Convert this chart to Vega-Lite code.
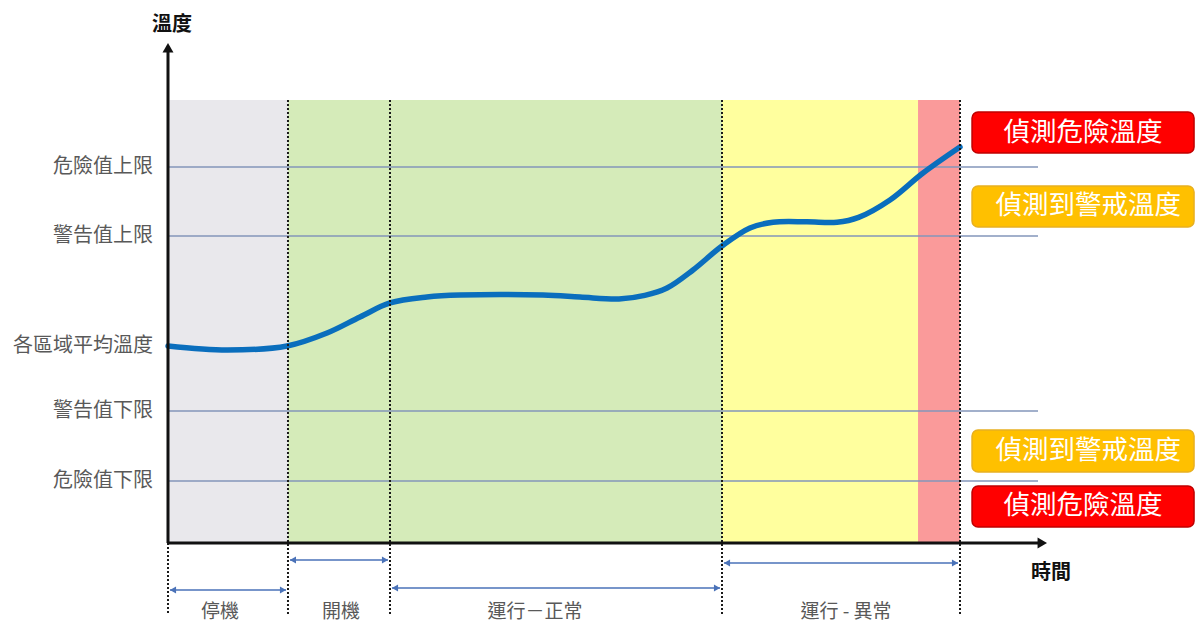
{
  "$schema": "https://vega.github.io/schema/vega-lite/v6.json",
  "width": 1197,
  "height": 624,
  "autosize": "none",
  "padding": 0,
  "background": "white",
  "config": {
    "view": {"stroke": null},
    "axis": {"disable": true},
    "legend": {"disable": true},
    "text": {"font": "Noto Sans CJK TC"}
  },
  "datasets": {
    "zones": [
      {"state": "停機", "t": 0, "t2": 15.15, "T": 0, "T2": 100},
      {"state": "開機", "t": 15.15, "t2": 28.03, "T": 0, "T2": 100},
      {"state": "運行-正常", "t": 28.03, "t2": 69.95, "T": 0, "T2": 100},
      {"state": "運行-異常", "t": 69.95, "t2": 94.7, "T": 0, "T2": 100},
      {"state": "危險區", "t": 94.7, "t2": 100, "T": 0, "T2": 100}
    ],
    "levels": [
      {"label": "危險值上限", "T": 84.88, "line": true},
      {"label": "警告值上限", "T": 69.3, "line": true},
      {"label": "各區域平均溫度", "T": 44.47, "line": false},
      {"label": "警告值下限", "T": 29.8, "line": true},
      {"label": "危險值下限", "T": 14.0, "line": true}
    ],
    "dividers": [
      {"t": 0, "T": 0, "T2": -16.25},
      {"t": 15.15, "T": 100, "T2": -16.25},
      {"t": 28.03, "T": 100, "T2": -16.25},
      {"t": 69.95, "T": 100, "T2": -16.25},
      {"t": 100, "T": 100, "T2": -16.25}
    ],
    "curve": [
      {"t": 0, "T": 44.47},
      {"t": 7.45, "T": 43.57},
      {"t": 15.03, "T": 44.47},
      {"t": 20.08, "T": 47.4},
      {"t": 24.24, "T": 51.02},
      {"t": 28.03, "T": 54.18},
      {"t": 32.7, "T": 55.53},
      {"t": 36.87, "T": 55.98},
      {"t": 47.35, "T": 55.98},
      {"t": 52.02, "T": 55.53},
      {"t": 56.94, "T": 55.08},
      {"t": 60.2, "T": 55.9},
      {"t": 63.01, "T": 57.56},
      {"t": 66.29, "T": 61.63},
      {"t": 69.95, "T": 67.04},
      {"t": 73.48, "T": 71.11},
      {"t": 76.39, "T": 72.4},
      {"t": 80.68, "T": 72.5},
      {"t": 84.47, "T": 72.4},
      {"t": 87.2, "T": 73.5},
      {"t": 91.16, "T": 77.43},
      {"t": 95.33, "T": 83.52},
      {"t": 100, "T": 89.39}
    ],
    "spans": [
      {"phase": "停機", "t": 0.25, "t2": 14.9, "T": -10.61, "mid": 6.57},
      {"phase": "開機", "t": 15.4, "t2": 27.78, "T": -3.84, "mid": 21.84},
      {"phase": "運行－正常", "t": 28.28, "t2": 69.7, "T": -10.16, "mid": 46.34},
      {"phase": "運行 - 異常", "t": 70.2, "t2": 99.75, "T": -4.51, "mid": 85.61}
    ],
    "boxes": [
      {"label": "偵測危險溫度", "level": "危險", "t": 101.52, "t2": 129.55, "T": 88.04, "T2": 97.29, "tc": 115.53, "Tc": 92.66},
      {"label": "偵測到警戒溫度", "level": "警戒", "t": 101.52, "t2": 129.55, "T": 71.33, "T2": 80.59, "tc": 116.2, "Tc": 75.96},
      {"label": "偵測到警戒溫度", "level": "警戒", "t": 101.52, "t2": 129.55, "T": 16.03, "T2": 25.51, "tc": 116.2, "Tc": 20.77},
      {"label": "偵測危險溫度", "level": "危險", "t": 101.52, "t2": 129.55, "T": 3.61, "T2": 12.87, "tc": 115.53, "Tc": 8.24}
    ]
  },
  "layer": [
    {
      "data": {"name": "zones"},
      "mark": {"type": "rect"},
      "encoding": {
        "x": {"field": "t", "type": "quantitative", "scale": {"domain": [-21.212, 129.924], "nice": false, "zero": false}},
        "x2": {"field": "t2"},
        "y": {"field": "T", "type": "quantitative", "scale": {"domain": [-18.284, 122.573], "nice": false, "zero": false}},
        "y2": {"field": "T2"},
        "fill": {"field": "state", "type": "nominal", "scale": {"domain": ["停機", "開機", "運行-正常", "運行-異常", "危險區", "警戒", "危險"], "range": ["#E9E8EC", "#D5EBB9", "#D5EBB9", "#FFFF9E", "#FA9A9A", "#FFC000", "#FF0000"]}}
      }
    },
    {
      "data": {"name": "levels"},
      "transform": [{"filter": "datum.line"}],
      "mark": {"type": "rule", "color": "#8396BA", "strokeWidth": 1.3},
      "encoding": {
        "x": {"datum": 0, "type": "quantitative", "scale": {"domain": [-21.212, 129.924], "nice": false, "zero": false}},
        "x2": {"datum": 109.85},
        "y": {"field": "T", "type": "quantitative", "scale": {"domain": [-18.284, 122.573], "nice": false, "zero": false}}
      }
    },
    {
      "data": {"name": "curve"},
      "mark": {"type": "line", "color": "#0A6EBD", "strokeWidth": 5.5, "interpolate": "catmull-rom", "strokeCap": "round"},
      "encoding": {
        "x": {"field": "t", "type": "quantitative", "scale": {"domain": [-21.212, 129.924], "nice": false, "zero": false}},
        "y": {"field": "T", "type": "quantitative", "scale": {"domain": [-18.284, 122.573], "nice": false, "zero": false}}
      }
    },
    {
      "data": {"name": "dividers"},
      "mark": {"type": "rule", "color": "#1A1A1A", "strokeWidth": 2, "strokeDash": [2, 2]},
      "encoding": {
        "x": {"field": "t", "type": "quantitative", "scale": {"domain": [-21.212, 129.924], "nice": false, "zero": false}},
        "y": {"field": "T", "type": "quantitative", "scale": {"domain": [-18.284, 122.573], "nice": false, "zero": false}},
        "y2": {"field": "T2"}
      }
    },
    {
      "data": {"values": [{"t": 0, "T": 0, "t2": 0, "T2": 110.84}, {"t": 0, "T": 0, "t2": 110.1, "T2": 0}]},
      "mark": {"type": "rule", "color": "#111111", "strokeWidth": 3},
      "encoding": {
        "x": {"field": "t", "type": "quantitative", "scale": {"domain": [-21.212, 129.924], "nice": false, "zero": false}},
        "x2": {"field": "t2"},
        "y": {"field": "T", "type": "quantitative", "scale": {"domain": [-18.284, 122.573], "nice": false, "zero": false}},
        "y2": {"field": "T2"}
      }
    },
    {
      "data": {"values": [{"t": 0, "T": 111.81}]},
      "mark": {"type": "point", "shape": "triangle-up", "size": 120, "filled": true, "color": "#111111", "opacity": 1},
      "encoding": {
        "x": {"field": "t", "type": "quantitative", "scale": {"domain": [-21.212, 129.924], "nice": false, "zero": false}},
        "y": {"field": "T", "type": "quantitative", "scale": {"domain": [-18.284, 122.573], "nice": false, "zero": false}}
      }
    },
    {
      "data": {"values": [{"t": 110.39, "T": 0}]},
      "mark": {"type": "point", "shape": "triangle-right", "size": 120, "filled": true, "color": "#111111", "opacity": 1},
      "encoding": {
        "x": {"field": "t", "type": "quantitative", "scale": {"domain": [-21.212, 129.924], "nice": false, "zero": false}},
        "y": {"field": "T", "type": "quantitative", "scale": {"domain": [-18.284, 122.573], "nice": false, "zero": false}}
      }
    },
    {
      "data": {"name": "spans"},
      "mark": {"type": "rule", "color": "#4A72B8", "strokeWidth": 1.5},
      "encoding": {
        "x": {"field": "t", "type": "quantitative", "scale": {"domain": [-21.212, 129.924], "nice": false, "zero": false}},
        "x2": {"field": "t2"},
        "y": {"field": "T", "type": "quantitative", "scale": {"domain": [-18.284, 122.573], "nice": false, "zero": false}}
      }
    },
    {
      "data": {"name": "spans"},
      "mark": {"type": "point", "shape": "triangle-left", "size": 50, "filled": true, "color": "#4A72B8", "opacity": 1, "xOffset": 3},
      "encoding": {
        "x": {"field": "t", "type": "quantitative", "scale": {"domain": [-21.212, 129.924], "nice": false, "zero": false}},
        "y": {"field": "T", "type": "quantitative", "scale": {"domain": [-18.284, 122.573], "nice": false, "zero": false}}
      }
    },
    {
      "data": {"name": "spans"},
      "mark": {"type": "point", "shape": "triangle-right", "size": 50, "filled": true, "color": "#4A72B8", "opacity": 1, "xOffset": -3},
      "encoding": {
        "x": {"field": "t2", "type": "quantitative", "scale": {"domain": [-21.212, 129.924], "nice": false, "zero": false}},
        "y": {"field": "T", "type": "quantitative", "scale": {"domain": [-18.284, 122.573], "nice": false, "zero": false}}
      }
    },
    {
      "data": {"name": "spans"},
      "mark": {"type": "text", "fontSize": 19, "color": "#595959", "align": "center", "baseline": "middle"},
      "encoding": {
        "x": {"field": "mid", "type": "quantitative", "scale": {"domain": [-21.212, 129.924], "nice": false, "zero": false}},
        "y": {"datum": -15.58, "type": "quantitative", "scale": {"domain": [-18.284, 122.573], "nice": false, "zero": false}},
        "text": {"field": "phase"}
      }
    },
    {
      "data": {"name": "levels"},
      "mark": {"type": "text", "fontSize": 20, "color": "#595959", "align": "right", "baseline": "middle"},
      "encoding": {
        "x": {"datum": -1.9, "type": "quantitative", "scale": {"domain": [-21.212, 129.924], "nice": false, "zero": false}},
        "y": {"field": "T", "type": "quantitative", "scale": {"domain": [-18.284, 122.573], "nice": false, "zero": false}},
        "text": {"field": "label"}
      }
    },
    {
      "data": {"values": [{"label": "溫度", "t": 0.5, "T": 116.93}, {"label": "時間", "t": 111.49, "T": -6.77}]},
      "mark": {"type": "text", "fontSize": 20, "fontWeight": "bold", "color": "#111111", "align": "center", "baseline": "middle"},
      "encoding": {
        "x": {"field": "t", "type": "quantitative", "scale": {"domain": [-21.212, 129.924], "nice": false, "zero": false}},
        "y": {"field": "T", "type": "quantitative", "scale": {"domain": [-18.284, 122.573], "nice": false, "zero": false}},
        "text": {"field": "label"}
      }
    },
    {
      "data": {"name": "boxes"},
      "mark": {"type": "rect", "cornerRadius": 6, "strokeWidth": 1.5},
      "encoding": {
        "x": {"field": "t", "type": "quantitative", "scale": {"domain": [-21.212, 129.924], "nice": false, "zero": false}},
        "x2": {"field": "t2"},
        "y": {"field": "T", "type": "quantitative", "scale": {"domain": [-18.284, 122.573], "nice": false, "zero": false}},
        "y2": {"field": "T2"},
        "fill": {"field": "level", "type": "nominal"},
        "stroke": {"field": "level", "type": "nominal", "scale": {"domain": ["警戒", "危險"], "range": ["#E8B020", "#C00000"]}}
      }
    },
    {
      "data": {"name": "boxes"},
      "mark": {"type": "text", "fontSize": 26.5, "color": "white", "align": "center", "baseline": "middle"},
      "encoding": {
        "x": {"field": "tc", "type": "quantitative", "scale": {"domain": [-21.212, 129.924], "nice": false, "zero": false}},
        "y": {"field": "Tc", "type": "quantitative", "scale": {"domain": [-18.284, 122.573], "nice": false, "zero": false}},
        "text": {"field": "label"}
      }
    }
  ]
}
